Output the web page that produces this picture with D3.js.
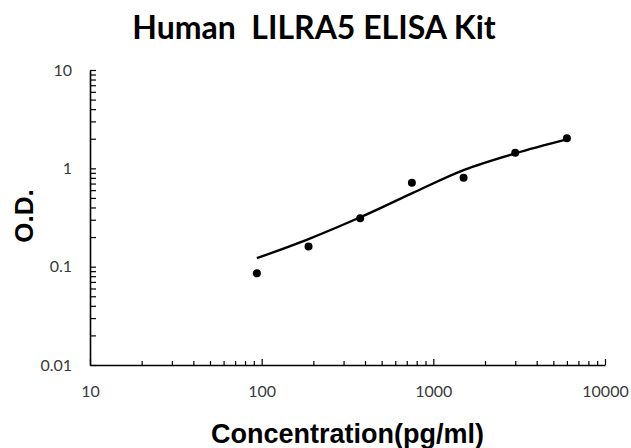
<!DOCTYPE html>
<html>
<head>
<meta charset="utf-8">
<script src="https://cdn.jsdelivr.net/npm/d3@7"></script>
<style>
  body { margin: 0; background: #fff; }
  svg { display: block; }
</style>
</head>
<body>
<div id="chart"></div>
<script>
// standard concentrations and measured O.D.
const conc = [93.75, 187.5, 375, 750, 1500, 3000, 6000];
const od = [0.0855, 0.160, 0.310, 0.714, 0.802, 1.44, 2.02];

// fitted curve at the same concentrations
const fitConc = [93.75, 187.5, 375, 750, 1500, 3000, 6000];
const fitOd = [0.122, 0.191, 0.318, 0.557, 0.96, 1.42, 1.97];

const xTickLabels = [10, 100, 1000, 10000];
const yTickLabels = [0.01, 0.1, 1, 10];

const width = 631, height = 448;
const margin = {left: 90, right: 26, top: 70, bottom: 83};

const x = d3.scaleLog().domain([10, 10000]).range([margin.left, width - margin.right]);
const y = d3.scaleLog().domain([0.01, 10]).range([height - margin.bottom, margin.top]);

const svg = d3.select("#chart").append("svg")
    .attr("width", width)
    .attr("height", height);

// all ticks of each decade (minor + major)
function logTicks(lo, hi) {
    let t = [];
    for (let d = lo; d < hi; d *= 10) {
        for (let k = 1; k < 10; k++) t.push(d * k);
    }
    t.push(hi);
    return t;
}
const isMajor = v => Math.abs(Math.log10(v) - Math.round(Math.log10(v))) < 1e-9;
const fmt = (labels) => v => labels.some(l => Math.abs(l - v) < 1e-9 * l) ? String(+v.toPrecision(3)) : "";

const tickFont = "Lato, 'Open Sans', sans-serif";

// x axis, ticks pointing up into the plot
const xAxis = svg.append("g")
    .attr("transform", `translate(0,${y(0.01)})`)
    .call(d3.axisBottom(x).tickValues(logTicks(10, 10000)).tickFormat(fmt(xTickLabels))
        .tickSizeInner(-4).tickSizeOuter(0).tickPadding(21));
xAxis.selectAll(".tick line").attr("y2", d => isMajor(d) ? -6 : -4);

// y axis, ticks pointing right
const yAxis = svg.append("g")
    .attr("transform", `translate(${x(10)},0)`)
    .call(d3.axisLeft(y).tickValues(logTicks(0.01, 10)).tickFormat(fmt(yTickLabels))
        .tickSizeInner(-6).tickSizeOuter(0).tickPadding(18));

svg.selectAll(".domain").attr("stroke", "#000").attr("stroke-width", 1.6);
svg.selectAll(".tick line").attr("stroke", "#000").attr("stroke-width", 1.2);
svg.selectAll(".tick text")
    .attr("font-family", tickFont)
    .attr("font-size", 16)
    .attr("fill", "#3a3a3a");

// fitted curve
const line = d3.line()
    .x((d, i) => x(fitConc[i]))
    .y(d => y(d))
    .curve(d3.curveMonotoneX);

svg.append("path")
    .datum(fitOd)
    .attr("fill", "none")
    .attr("stroke", "#000")
    .attr("stroke-width", 2.4)
    .attr("d", line);

// data points
svg.append("g")
    .selectAll("circle")
    .data(conc)
    .join("circle")
    .attr("cx", d => x(d))
    .attr("cy", (d, i) => y(od[i]))
    .attr("r", 4)
    .attr("fill", "#000");

// titles
svg.append("text")
    .attr("x", 314)
    .attr("y", 39)
    .attr("text-anchor", "middle")
    .attr("font-family", "Lato, 'Open Sans', sans-serif")
    .attr("font-weight", "bold")
    .attr("font-size", 32)
    .attr("fill", "#000")
    .attr("xml:space", "preserve")
    .text("Human  LILRA5 ELISA Kit");

svg.append("text")
    .attr("x", (x.range()[0] + x.range()[1]) / 2)
    .attr("y", 443)
    .attr("text-anchor", "middle")
    .attr("font-family", "'Liberation Sans', Arial, sans-serif")
    .attr("font-weight", "bold")
    .attr("font-size", 27)
    .attr("fill", "#000")
    .text("Concentration(pg/ml)");

svg.append("text")
    .attr("transform", "translate(33,216) rotate(-90)")
    .attr("text-anchor", "middle")
    .attr("font-family", "'Liberation Sans', Arial, sans-serif")
    .attr("font-weight", "bold")
    .attr("font-size", 26)
    .attr("fill", "#000")
    .text("O.D.");
</script>
</body>
</html>
